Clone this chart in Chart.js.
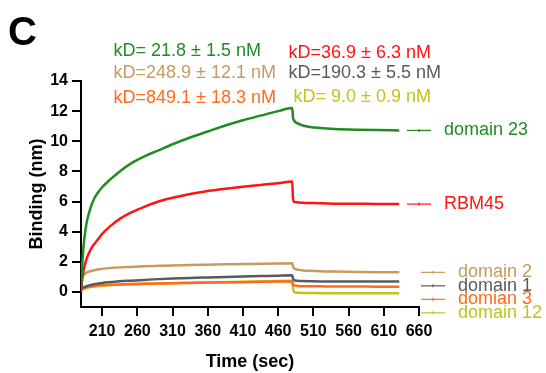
<!DOCTYPE html>
<html>
<head>
<meta charset="utf-8">
<script src="https://cdn.jsdelivr.net/npm/chart.js@4/dist/chart.umd.min.js"></script>
<style>
  html, body { margin: 0; padding: 0; background: #ffffff; }
  canvas { display: block; }
</style>
</head>
<body>
<canvas id="c" width="546" height="373"></canvas>
<script>
// ---- data ----
const time = [180,181,182,184,186,188,190,193,196,200,205,210,220,235,250,270,290,310,335,360,385,410,435,460,480,481,483,487,495,505,520,540,570,600,632];

const domain23 = [0.2,1.2,2.0,3.2,4.0,4.6,5.0,5.5,5.9,6.3,6.65,6.95,7.4,8.0,8.5,9.0,9.4,9.8,10.25,10.65,11.05,11.4,11.7,12.0,12.2,11.6,11.35,11.2,11.05,10.95,10.88,10.82,10.77,10.74,10.72];
const rbm45    = [0.0,0.5,0.9,1.5,1.9,2.2,2.45,2.75,3.0,3.25,3.55,3.85,4.3,4.85,5.25,5.65,6.0,6.25,6.5,6.7,6.85,6.98,7.1,7.22,7.33,6.2,5.98,5.95,5.92,5.9,5.88,5.86,5.85,5.84,5.83];
const domain2  = [0.3,0.8,1.0,1.15,1.22,1.28,1.32,1.37,1.41,1.45,1.5,1.53,1.58,1.63,1.66,1.7,1.73,1.76,1.79,1.81,1.83,1.85,1.87,1.89,1.9,1.7,1.55,1.48,1.43,1.4,1.37,1.35,1.33,1.31,1.3];
const domain1  = [0.2,0.24,0.27,0.31,0.35,0.38,0.41,0.45,0.48,0.52,0.56,0.6,0.65,0.71,0.75,0.8,0.85,0.89,0.93,0.96,0.99,1.02,1.05,1.08,1.1,0.9,0.78,0.74,0.72,0.71,0.7,0.7,0.69,0.69,0.69];
const domian3  = [0.15,0.18,0.21,0.25,0.28,0.31,0.33,0.36,0.38,0.41,0.43,0.45,0.47,0.5,0.52,0.54,0.56,0.58,0.6,0.62,0.64,0.65,0.67,0.69,0.7,0.52,0.43,0.4,0.38,0.38,0.37,0.36,0.36,0.35,0.35];
const domain12 = [0.1,0.13,0.16,0.2,0.23,0.26,0.29,0.32,0.35,0.37,0.39,0.41,0.44,0.48,0.51,0.54,0.56,0.58,0.61,0.63,0.65,0.67,0.7,0.72,0.75,0.3,-0.02,-0.05,-0.07,-0.07,-0.08,-0.08,-0.09,-0.09,-0.09];

const seriesNames = ['domain 23','RBM45','domain 2','domain 1','domian 3','domain 12'];
const seriesValues = [domain23, rbm45, domain2, domain1, domian3, domain12];
const kdTexts = ['kD= 21.8 \u00b1 1.5 nM','kD=36.9 \u00b1 6.3 nM','kD=248.9 \u00b1 12.1 nM','kD=190.3 \u00b1 5.5 nM','kD=849.1 \u00b1 18.3 nM','kD= 9.0 \u00b1 0.9 nM'];

const xTicks = [210,260,310,360,410,460,510,560,610,660];
const yTicks = [0,2,4,6,8,10,12,14];
const panelLetter = 'C';
const xTitle = 'Time (sec)';
const yTitle = 'Binding (nm)';

// ---- styles ----
const colors = ['#228b22','#ff1414','#c99a5e','#5a5a5a','#ff6b1a','#c2c21e'];
const FONT = '"Liberation Sans", Arial, Helvetica, sans-serif';

const datasets = seriesValues.map((vals, i) => ({
  label: seriesNames[i],
  data: time.map((t, k) => ({x: t, y: vals[k]})),
  borderColor: colors[i],
  backgroundColor: colors[i],
  borderWidth: 2.5,
  pointRadius: 0,
  fill: false,
  cubicInterpolationMode: 'monotone'
}));

// text annotations (panel letter, kD values) and end labels
const annotPlugin = {
  id: 'annot',
  afterDraw(chart, args, opts) {
    const ctx = chart.ctx;
    ctx.save();
    ctx.fillStyle = '#000';
    ctx.font = 'bold 40px ' + FONT;
    ctx.textBaseline = 'alphabetic';
    ctx.textAlign = 'left';
    ctx.fillText(panelLetter, 8, 45);
    ctx.font = '18px ' + FONT;
    ctx.textBaseline = 'middle';
    opts.kdPos.forEach((p, i) => {
      ctx.fillStyle = colors[i];
      ctx.fillText(kdTexts[i], p[0], p[1]);
    });
    const ys = chart.scales.y;
    const right = chart.chartArea.right;
    const order = seriesValues.map((v, i) => i)
      .sort((a, b) => seriesValues[b][seriesValues[b].length - 1] - seriesValues[a][seriesValues[a].length - 1]);
    let prev = -Infinity;
    order.forEach(i => {
      const v = seriesValues[i][seriesValues[i].length - 1];
      let y = ys.getPixelForValue(v);
      if (y < prev + opts.spacing) y = prev + opts.spacing;
      prev = y;
      const shift = opts.indent[i];
      const x0 = right + opts.segStart + shift;
      const x1 = x0 + opts.segLen;
      ctx.strokeStyle = colors[i];
      ctx.lineWidth = 1.2;
      ctx.beginPath();
      ctx.moveTo(x0, y);
      ctx.lineTo(x1, y);
      ctx.stroke();
      ctx.beginPath();
      ctx.moveTo((x0 + x1) / 2, y - 1.5);
      ctx.lineTo((x0 + x1) / 2, y + 1.5);
      ctx.stroke();
      ctx.fillStyle = colors[i];
      ctx.font = '18px ' + FONT;
      ctx.textBaseline = 'middle';
      ctx.fillText(seriesNames[i], right + opts.textStart + shift, y);
    });
    ctx.restore();
  }
};

new Chart(document.getElementById('c'), {
  type: 'line',
  data: { datasets },
  plugins: [annotPlugin],
  options: {
    responsive: false,
    animation: false,
    events: [],
    layout: { padding: { top: 81, right: 127, left: 0, bottom: 0 } },
    plugins: {
      legend: { display: false },
      tooltip: { enabled: false },
      annot: {
        kdPos: [[113.5, 51], [288.5, 53], [113.5, 73.5], [288.5, 73], [113.5, 98], [293.5, 97]],
        spacing: 13.5,
        indent: [0, 0, 14, 14, 14, 14],
        segStart: -12,
        segLen: 24,
        textStart: 25
      }
    },
    scales: {
      x: {
        type: 'linear',
        min: 180,
        max: 660,
        afterFit: s => { s.height = 66; },
        afterBuildTicks: s => { s.ticks = xTicks.map(v => ({value: v})); },
        grid: { display: true, drawOnChartArea: false, drawTicks: true, tickLength: 9, lineWidth: 2, color: '#000' },
        border: { display: true, color: '#000', width: 2 },
        ticks: { autoSkip: false, maxRotation: 0, padding: 6, color: '#000', font: { family: FONT, size: 16, weight: 'bold', lineHeight: 1.2 } },
        title: { display: true, text: xTitle, color: '#000', padding: { top: 0, bottom: 0 }, font: { family: FONT, size: 18, weight: 'bold', lineHeight: 1.2 } }
      },
      y: {
        type: 'linear',
        min: -1,
        max: 14,
        afterFit: s => { s.width = 81; },
        afterBuildTicks: s => { s.ticks = yTicks.map(v => ({value: v})); },
        grid: { display: true, drawOnChartArea: false, drawTicks: true, tickLength: 9, lineWidth: 2, color: '#000' },
        border: { display: true, color: '#000', width: 2 },
        ticks: { autoSkip: false, padding: 4, color: '#000', font: { family: FONT, size: 16, weight: 'bold', lineHeight: 1.2 } },
        title: { display: true, text: yTitle, color: '#000', padding: { top: 26, bottom: 0 }, font: { family: FONT, size: 18, weight: 'bold', lineHeight: 1.2 } }
      }
    }
  }
});
</script>
</body>
</html>
